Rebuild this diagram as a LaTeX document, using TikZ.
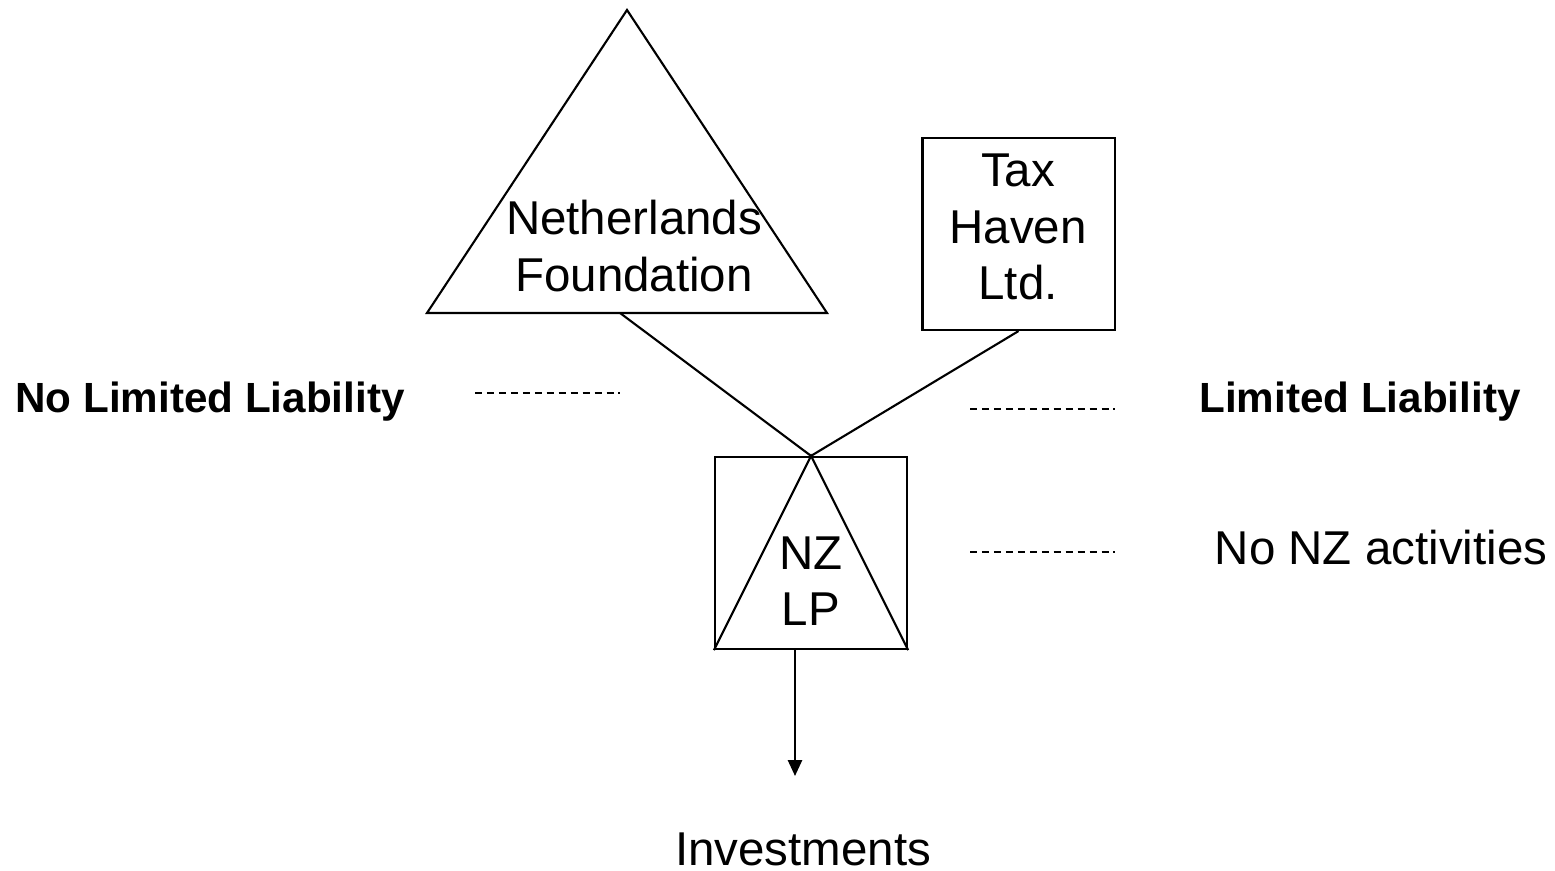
\documentclass[tikz,border=0pt]{standalone}
\usepackage{fontspec}
\setmainfont{Liberation Sans}
\usetikzlibrary{arrows.meta, positioning}

\begin{document}
\begin{tikzpicture}[
  x=0.01cm, y=-0.01cm,
  line width=0.6pt,
  every node/.style={align=center, inner sep=0pt, font=\fontsize{13.5}{16}\selectfont},
  entity/.style={draw, rectangle, minimum width=1.92cm, minimum height=1.92cm},
  side/.style={font=\fontsize{12}{14}\selectfont\bfseries},
  leader/.style={dash pattern=on 2pt off 1.4pt, line width=0.5pt},
  arrow/.style={-{Triangle[length=4.5pt, width=4pt]}}
]
\useasboundingbox (0,0) rectangle (1555,871);

% foundation
\coordinate (fnd-apex) at (627,10);
\coordinate (fnd-left) at (427,313);
\coordinate (fnd-right) at (827,313);
\coordinate (fnd-foot) at (620,313);
\draw (fnd-apex) -- (fnd-left) -- (fnd-right) -- cycle;
\node (fnd) at (634,246) {Netherlands\\Foundation};

% tax haven company
\node (tax) [entity] at (1018.5,234) {};
\node (taxtext) at (1018,227) {Tax\\Haven\\Ltd.};

% limited partnership
\node (nzlp) [entity] at (811,553) {};
\draw (nzlp.south west) -- (nzlp.north) -- (nzlp.south east);
\node (nzlptext) at (811,581) {NZ\\LP};

\draw (fnd-foot) -- (nzlp.north);
\draw (tax.south) -- (nzlp.north);

\node (inv) at (803,849) {Investments};
\coordinate (flow) at (795,776);
\draw[arrow] (flow |- nzlp.south) -- (flow);

% side notes
\node (noll) [side] at (210,402) {No Limited Liability};
\node (ll) [side] at (1360,402) {Limited Liability};
\node (nonz) at (1381,548) {No NZ activities};

\draw[leader] (475,393) -- (620,393);
\draw[leader] (970,409) -- (1115,409);
\draw[leader] (970,552) -- (1115,552);

\end{tikzpicture}
\end{document}
